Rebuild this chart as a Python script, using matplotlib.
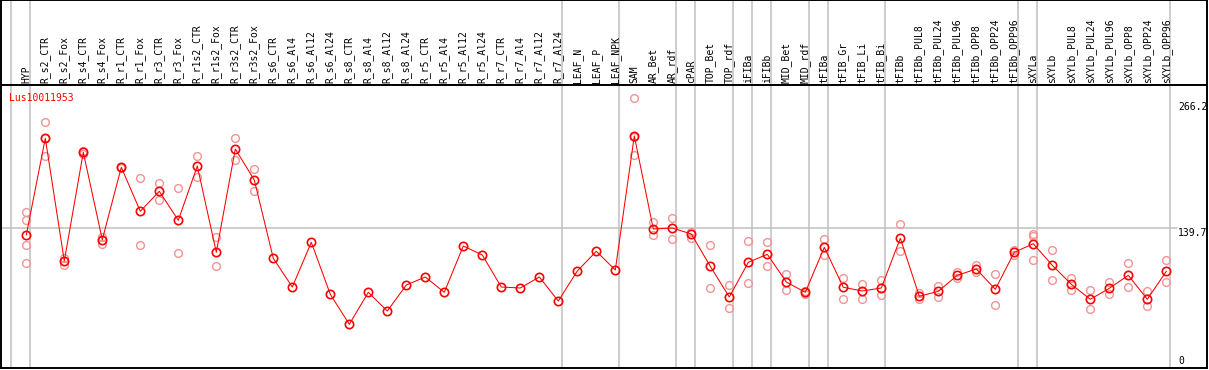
import numpy as np
import matplotlib
matplotlib.use('Agg')
import matplotlib.pyplot as plt
import matplotlib.transforms as mtransforms

gene = 'Lus10011953'

samples = ['HYP', 'R_s2_CTR', 'R_s2_Fox', 'R_s4_CTR', 'R_s4_Fox', 'R_r1_CTR', 'R_r1_Fox',
           'R_r3_CTR', 'R_r3_Fox', 'R_r1s2_CTR', 'R_r1s2_Fox', 'R_r3s2_CTR', 'R_r3s2_Fox',
           'R_s6_CTR', 'R_s6_Al4', 'R_s6_Al12', 'R_s6_Al24', 'R_s8_CTR', 'R_s8_Al4',
           'R_s8_Al12', 'R_s8_Al24', 'R_r5_CTR', 'R_r5_Al4', 'R_r5_Al12', 'R_r5_Al24',
           'R_r7_CTR', 'R_r7_Al4', 'R_r7_Al12', 'R_r7_Al24', 'LEAF_N', 'LEAF_P', 'LEAF_NPK',
           'SAM', 'AR_Bet', 'AR_rdf', 'cPAR', 'TOP_Bet', 'TOP_rdf', 'iFIBa', 'iFIBb',
           'MID_Bet', 'MID_rdf', 'tFIBa', 'tFIB_Gr', 'tFIB_Li', 'tFIB_Bi', 'tFIBb',
           'tFIBb_PUL8', 'tFIBb_PUL24', 'tFIBb_PUL96', 'tFIBb_OPP8', 'tFIBb_OPP24',
           'tFIBb_OPP96', 'sXYLa', 'sXYLb', 'sXYLb_PUL8', 'sXYLb_PUL24', 'sXYLb_PUL96',
           'sXYLb_OPP8', 'sXYLb_OPP24', 'sXYLb_OPP96']

means = [133, 229.7, 107, 215.7, 128.3, 200.7, 156.7, 176.7, 147.7, 202, 115.7, 219, 188,
         109.7, 81, 125.7, 73.7, 43.7, 75.7, 57, 83, 91, 75.7, 122, 113, 81, 80, 91, 67, 97,
         116.7, 98,
         232, 139, 140, 134, 101.7, 71, 105.7, 113.7, 86, 75.7, 120.7, 80.7, 77, 80,
         129.7, 71.7, 76.7, 92.7, 99, 78.7, 115.7, 124.3, 102.7, 83.7, 68.7, 79.7, 92.7,
         68.7, 96.7]

replicates = [
    [155.7, 147.7, 123, 105], [246.3, 212.3, 230], [109.7, 103], [217, 214], [131.3, 124],
    [201.5, 200], [190.3, 123], [184.7, 167.7], [179.7, 115], [211.7, 191.3], [131, 101.7],
    [229.7, 207.7], [199, 176.7],
    [], [], [], [], [], [], [], [], [], [], [], [], [], [], [], [], [], [], [],
    [270, 230.7, 212.7], [146, 132.7], [150, 128.7], [136.3, 130.3], [123, 79.7],
    [83, 59.7], [126.7, 84.7], [125.7, 101.7], [94, 78.3], [77, 74.5], [129, 113.3],
    [90, 68.7], [84, 68.7], [87.7, 72.7],
    [143.7, 116.7], [75.3, 68.7], [82.3, 71.3], [96.3, 90.3], [103, 95.7], [93.7, 62.7],
    [118, 113], [134.3, 132, 107.7], [117.7, 87.7], [90, 77.7], [77.7, 58.7],
    [85.7, 73.7], [104.7, 80.7], [76.7, 61.7], [107.7, 85.7],
]

# columns after which a grey group separator is drawn
group_ends = [-1, 0, 28, 31, 34, 35, 37, 38, 39, 41, 42, 45, 52, 53, 60]
y_ticks = [266.2, 139.7, 0]

W, H = 1209, 370
fig = plt.figure(figsize=(W / 100, H / 100), dpi=100)
left_px, right_px = 1, 1207
head = fig.add_axes([left_px / W, (H - 85) / H, (right_px - left_px) / W, 85 / H])
ax = fig.add_axes([left_px / W, (H - 368) / H, (right_px - left_px) / W, 283 / H])

x = np.arange(len(samples))
x0 = -(26.3 - left_px) / 19
x1 = x0 + (right_px - left_px) / 19
for a in (head, ax):
    a.set_xlim(x0, x1)
    a.set_xticks([])
    a.set_yticks([])
    for s in a.spines.values():
        s.set_color('black')
        s.set_linewidth(1.4)
    for g in group_ends:
        a.axvline(g + 0.21, color='#c0c0c0', lw=1.1, zorder=0)

head.set_ylim(0, 1)
ax.set_ylim(0, 283)

mono = 'DejaVu Sans Mono'
trans = mtransforms.blended_transform_factory(head.transData, head.transAxes)
for i, name in enumerate(samples):
    head.text(i, 0.025, name, rotation=90, ha='center', va='bottom', fontsize=7,
              family=mono, transform=trans)

# grey reference line at the middle tick
ax.plot([x0, (1177 - 26.3) / 19], [139.7, 139.7], color='#c0c0c0', lw=1.1, zorder=0)

for i, reps in enumerate(replicates):
    if reps:
        ax.plot([i] * len(reps), reps, 'o', ms=5.6, mfc='none', mec='#f29494', mew=1.0,
                zorder=2)

ax.plot(x, means, '-', color='red', lw=0.75, zorder=3)
ax.plot(x, means, 'o', ms=6, mfc='none', mec='red', mew=1.2, zorder=4)

tx = (1178 - 26.3) / 19
for v in y_ticks:
    if v == 0:
        ax.text(tx, v + 2, '0', ha='left', va='bottom', fontsize=7, family=mono)
    else:
        ax.text(tx, v, f'{v}', ha='left', va='top', fontsize=7, family=mono)

ax.text(8 / (right_px - left_px), 1 - 8 / 283, gene, color='red', ha='left', va='top',
        fontsize=7, family=mono, transform=ax.transAxes)

fig.savefig('out.png', dpi=100)
